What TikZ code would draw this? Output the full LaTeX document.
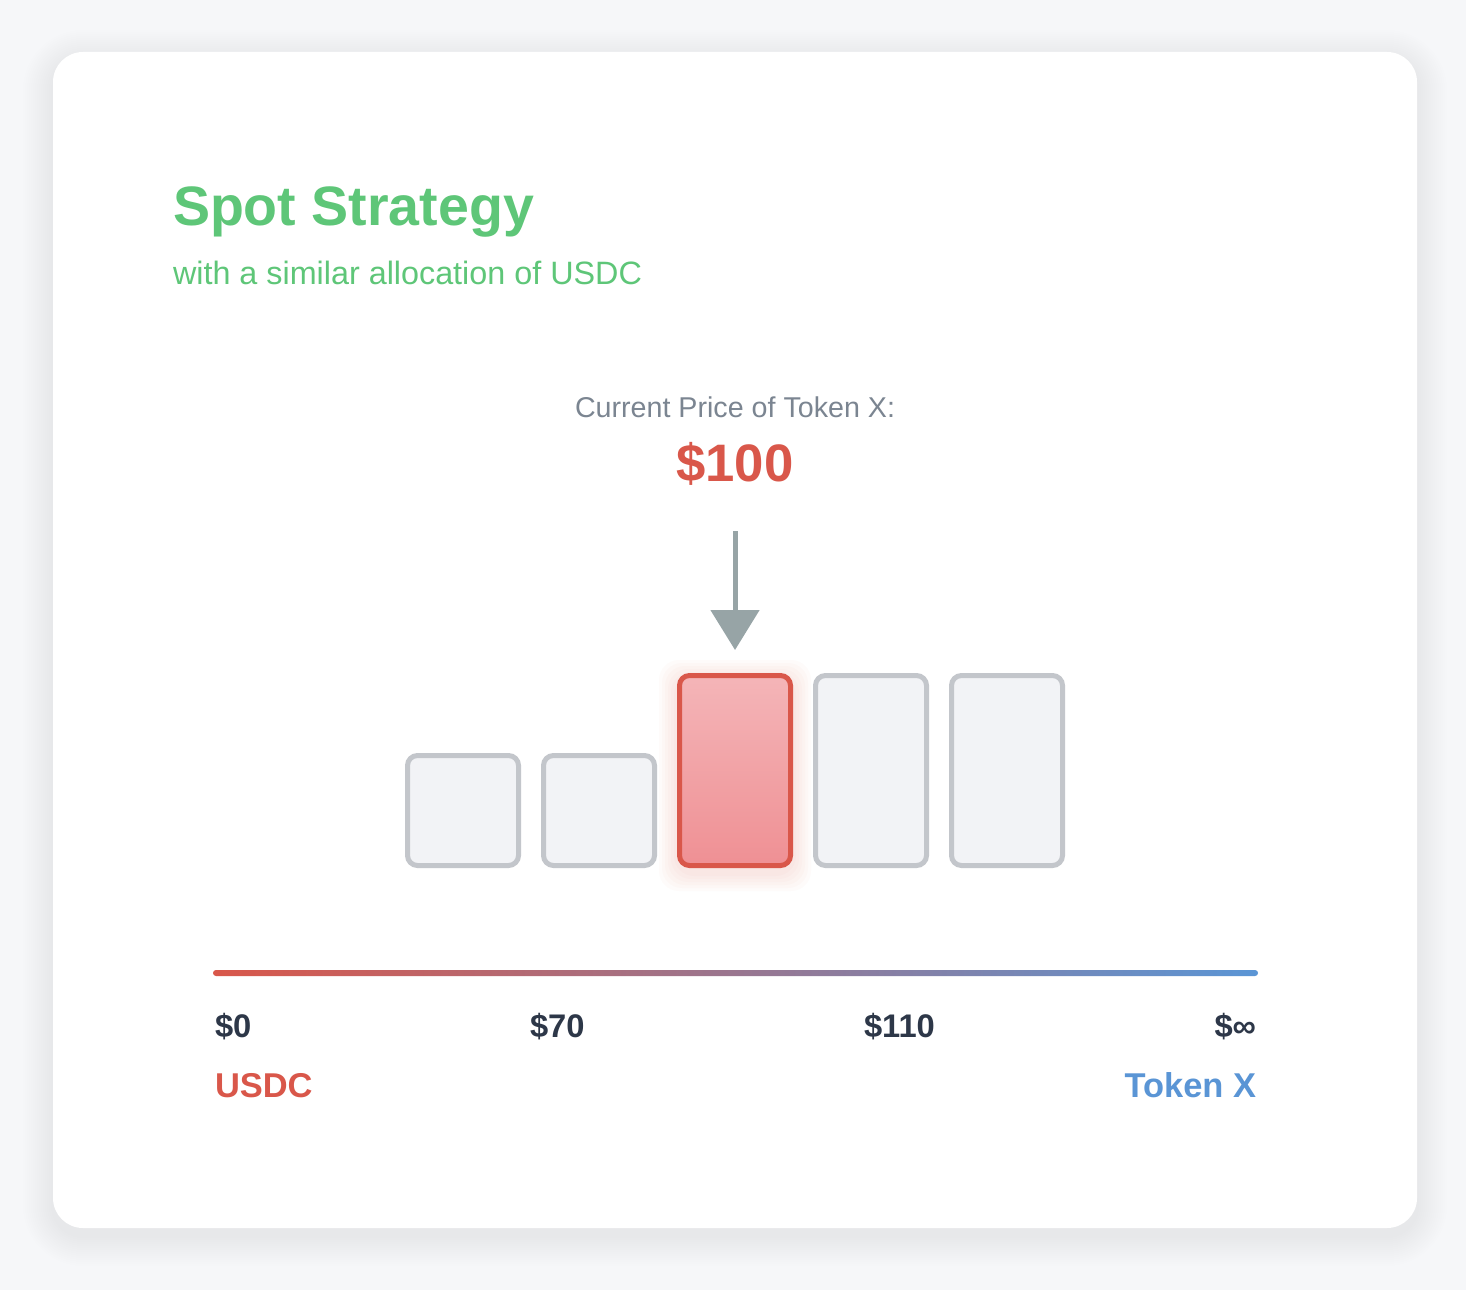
\documentclass[tikz,border=0pt]{standalone}
\usepackage{fontspec}
\setmainfont{Liberation Sans}
\usetikzlibrary{arrows.meta}

\definecolor{pagebg}{RGB}{246,247,249}
\definecolor{titlegreen}{RGB}{94,198,120}
\definecolor{pricered}{RGB}{217,87,74}
\definecolor{tokenblue}{RGB}{90,149,213}
\definecolor{labeldark}{RGB}{45,55,72}
\definecolor{captiongray}{RGB}{123,133,145}
\definecolor{arrowgray}{RGB}{151,164,166}
\definecolor{barline}{RGB}{195,198,203}
\definecolor{barfill}{RGB}{242,243,246}
\definecolor{activetop}{RGB}{244,181,184}
\definecolor{activebottom}{RGB}{239,144,148}

\tikzset{
  txt/.style={inner sep=0pt, outer sep=0pt},
  title/.style={txt, anchor=base west, text=titlegreen, font=\fontsize{15.8pt}{18pt}\selectfont\bfseries},
  subtitle/.style={txt, anchor=base west, text=titlegreen, font=\fontsize{9.2pt}{11pt}\selectfont},
  caption/.style={txt, anchor=base, text=captiongray, font=\fontsize{8.15pt}{10pt}\selectfont},
  price/.style={txt, anchor=base, text=pricered, font=\fontsize{15pt}{18pt}\selectfont\bfseries},
  tick/.style={txt, text=labeldark, font=\fontsize{9.3pt}{11pt}\selectfont\bfseries},
  asset/.style={txt, font=\fontsize{9.8pt}{12pt}\selectfont\bfseries},
  bar/.style={draw=barline, fill=barfill, line width=0.5mm, rounded corners=1mm,
    inner sep=0pt, anchor=south, minimum width=11.1mm},
  activebar/.style={bar, draw=pricered, top color=activetop, bottom color=activebottom},
  pointer/.style={draw=arrowgray, line width=0.5mm, -{Triangle[width=4.8mm,length=4mm]}}
}

\begin{document}
\begin{tikzpicture}[x=0.1mm, y=-0.1mm]
	\useasboundingbox (0,0) rectangle (1466,1290);
	\fill[pagebg] (0,0) rectangle (1466,1290);
	% card with a soft shadow
	\foreach \g in {2,4,...,30}
		\fill[black, opacity=0.004, rounded corners={3mm+\g*0.1mm}] ({53-\g},{52-\g+8}) rectangle ({1417+\g},{1228+\g+8});
	\fill[white, rounded corners=3mm] (53,52) rectangle (1417,1228);

	% heading
	\node[title] (title) at (173,226) {Spot Strategy};
	\node[subtitle] (subtitle) at (173,285) {with a similar allocation of USDC};

	% current price
	\node[caption] (current) at (735,418) {Current Price of Token X:};
	\node[price] (value) at (735,481) {\$100};

	% glow behind the active bin
	\foreach \g in {3,6,...,18}
		\fill[pricered, opacity=0.025, rounded corners=2mm] ({677-\g},{673-\g+5}) rectangle ({793+\g},{868+\g+5});

	% bins
	\node[bar, minimum height=11mm] (b1) at (463,868) {};
	\node[bar, minimum height=11mm] (b2) at (599,868) {};
	\node[activebar, minimum height=19mm] (b3) at (735,868) {};
	\node[bar, minimum height=19mm] (b4) at (871,868) {};
	\node[bar, minimum height=19mm] (b5) at (1007,868) {};

	\coordinate (arrowtop) at (735,531);
	\draw[pointer, shorten >=2.3mm] (arrowtop) -- (b3.north);

	% price axis
	\shade[left color=pricered, right color=tokenblue, rounded corners=0.3mm] (213,970) rectangle (1258,976);

	\node[tick, anchor=base west] (p0) at (215,1037) {\$0};
	\node[tick, anchor=base west] (p70) at (530,1037) {\$70};
	\node[tick, anchor=base west] (p110) at (864,1037) {\$110};
	\node[tick, anchor=base east] (pinf) at (1256,1037) {\$∞};

	\node[asset, anchor=base west, text=pricered] (usdc) at (215,1097) {USDC};
	\node[asset, anchor=base east, text=tokenblue] (token) at (1256,1097) {Token X};
\end{tikzpicture}
\end{document}
